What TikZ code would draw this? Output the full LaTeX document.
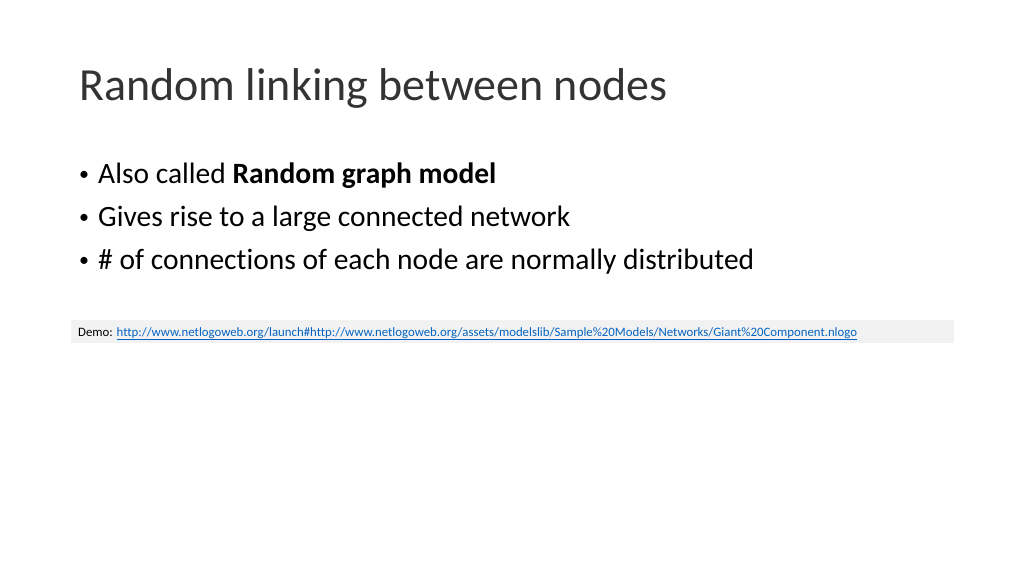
\documentclass[tikz,border=0pt]{standalone}
\usepackage{fontspec}
\setmainfont{Carlito}[Ligatures=NoCommon]
\usetikzlibrary{positioning}
\definecolor{linkblue}{RGB}{5,99,193}
\definecolor{demogray}{RGB}{242,242,242}
\tikzset{
    title/.style = {anchor=base west, inner sep=0pt, font=\fontsize{46}{52}\selectfont, text=black!80},
    bullet/.style = {anchor=base west, inner sep=0pt, font=\fontsize{29.5}{34}\selectfont},
    dot/.style = {anchor=base west, inner sep=0pt, font=\fontsize{20}{24}\selectfont},
    demo/.style = {anchor=base west, inner sep=0pt, font=\fontsize{12.8}{14}\selectfont},
}
\begin{document}
\begin{tikzpicture}[x=1pt,y=-1pt]
\useasboundingbox (0,0) rectangle (1024,576);
\node [title] (head) at (79,100) {Random linking between nodes};
% bullets
\foreach \y in {181,224,267} \node [dot] at (79,\y-1) {\textbullet};
\node [bullet] (b1) at (98,183) {Also called \textbf{Random graph model}};
\node [bullet] (b2) at (98,226) {Gives rise to a large connected network};
\node [bullet] (b3) at (98,269) {\# of connections of each node are normally distributed};
% demo link
\fill [demogray] (71,320) rectangle (954,343);
\node [demo] (link) at (78,336) {Demo: \textcolor{linkblue}{\underline{http://www.netlogoweb.org/launch\#http://www.netlogoweb.org/assets/modelslib/Sample\%20Models/Networks/Giant\%20Component.nlogo}}};
\end{tikzpicture}
\end{document}
